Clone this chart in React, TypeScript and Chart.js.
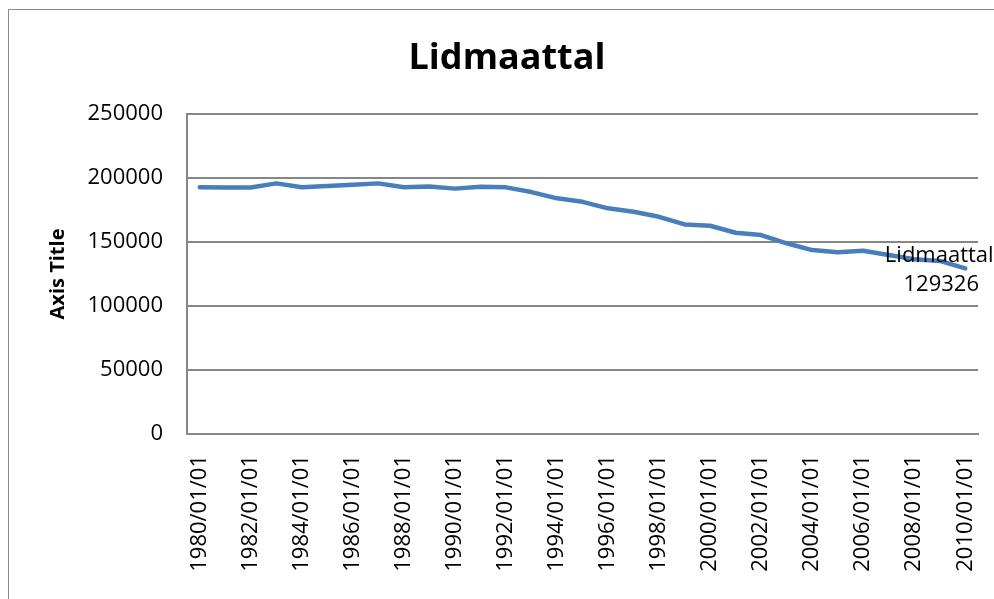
import React, { useEffect, useRef } from "react";
import { Chart, registerables } from "chart.js";

Chart.register(...registerables);

const categories: string[] = [
  "1980/01/01", "1981/01/01", "1982/01/01", "1983/01/01", "1984/01/01", "1985/01/01",
  "1986/01/01", "1987/01/01", "1988/01/01", "1989/01/01", "1990/01/01", "1991/01/01",
  "1992/01/01", "1993/01/01", "1994/01/01", "1995/01/01", "1996/01/01", "1997/01/01",
  "1998/01/01", "1999/01/01", "2000/01/01", "2001/01/01", "2002/01/01", "2003/01/01",
  "2004/01/01", "2005/01/01", "2006/01/01", "2007/01/01", "2008/01/01", "2009/01/01",
  "2010/01/01",
];

const lidmaattal: number[] = [
  192700, 192600, 192600, 195800, 192800, 193700,
  194800, 195800, 192800, 193300, 191700, 193200,
  192700, 189000, 184100, 181400, 176300, 173600,
  169700, 163700, 162700, 157200, 155400, 149000,
  143700, 142000, 143200, 139800, 136500, 135200,
  129326,
];

const seriesName = "Lidmaattal";
const chartTitle = "Lidmaattal";
const yAxisTitle = "Axis Title";
const yMin = 0;
const yMax = 250000;
const yStep = 50000;

const FONT = "'Open Sans', 'DejaVu Sans', sans-serif";

const decorPlugin = {
  id: "decor",
  beforeDraw(chart: any) {
    const ctx = chart.ctx;
    ctx.save();
    ctx.strokeStyle = "#8c8c8c";
    ctx.lineWidth = 1;
    ctx.strokeRect(8.5, 9.5, 1000, 700);
    ctx.restore();
  },
  afterDraw(chart: any) {
    const ctx = chart.ctx;
    const area = chart.chartArea;
    ctx.save();
    // title
    ctx.fillStyle = "#000";
    ctx.font = `bold 36px ${FONT}`;
    ctx.textAlign = "center";
    ctx.textBaseline = "alphabetic";
    ctx.fillText(chartTitle, 507, 69);
    // y axis title
    ctx.save();
    ctx.translate(64, (area.top + area.bottom) / 2);
    ctx.rotate(-Math.PI / 2);
    ctx.font = `bold 20px ${FONT}`;
    ctx.textAlign = "center";
    ctx.textBaseline = "alphabetic";
    ctx.fillText(yAxisTitle, 0, 0);
    ctx.restore();
    // data label on last point
    const meta = chart.getDatasetMeta(0);
    const last = meta.data[meta.data.length - 1];
    const val = lidmaattal[lidmaattal.length - 1];
    ctx.font = `22px ${FONT}`;
    ctx.textAlign = "center";
    ctx.fillText(seriesName, last.x - 26, last.y - 6);
    ctx.fillText(String(val), last.x - 24, last.y + 23);
    ctx.restore();
  },
};

export default function App() {
  const ref = useRef<HTMLCanvasElement | null>(null);
  useEffect(() => {
    if (!ref.current) return;
    const chart = new Chart(ref.current, {
      type: "line",
      data: {
        labels: categories,
        datasets: [
          {
            label: seriesName,
            data: lidmaattal,
            borderColor: "#4a7ebb",
            backgroundColor: "#4a7ebb",
            borderWidth: 4.5,
            pointRadius: 0,
            tension: 0,
            borderJoinStyle: "round",
            borderCapStyle: "round",
          },
        ],
      },
      options: {
        responsive: false,
        animation: false,
        layout: { padding: { left: 0, top: 114, right: 16, bottom: 0 } },
        plugins: {
          legend: { display: false },
          title: { display: false },
          tooltip: { enabled: false },
        },
        scales: {
          x: {
            type: "category",
            offset: true,
            grid: { display: false, drawTicks: false },
            border: { display: true, color: "#878787", width: 2 },
            ticks: {
              autoSkip: false,
              maxRotation: 90,
              minRotation: 90,
              padding: 21,
              color: "#000",
              font: { family: FONT, size: 22 },
              callback: (_v: any, i: number) => (i % 2 === 0 ? categories[i] : ""),
            },
            afterFit: (s: any) => {
              s.height = 165;
              s.paddingLeft = 0;
              s.paddingRight = 0;
            },
          },
          y: {
            min: yMin,
            max: yMax,
            grid: { color: "#878787", lineWidth: 2, drawTicks: false },
            border: { display: true, color: "#878787", width: 2 },
            ticks: {
              stepSize: yStep,
              padding: 24,
              color: "#000",
              font: { family: FONT, size: 22 },
              callback: (v: any) => String(v),
            },
            afterFit: (s: any) => {
              s.width = 187;
              s.paddingTop = 0;
              s.paddingBottom = 0;
            },
          },
        },
      },
      plugins: [decorPlugin],
    });
    return () => chart.destroy();
  }, []);
  return (
    <canvas
      ref={ref}
      width={994}
      height={599}
      style={{ position: "absolute", left: 0, top: 0, width: 994, height: 599 }}
    />
  );
}
